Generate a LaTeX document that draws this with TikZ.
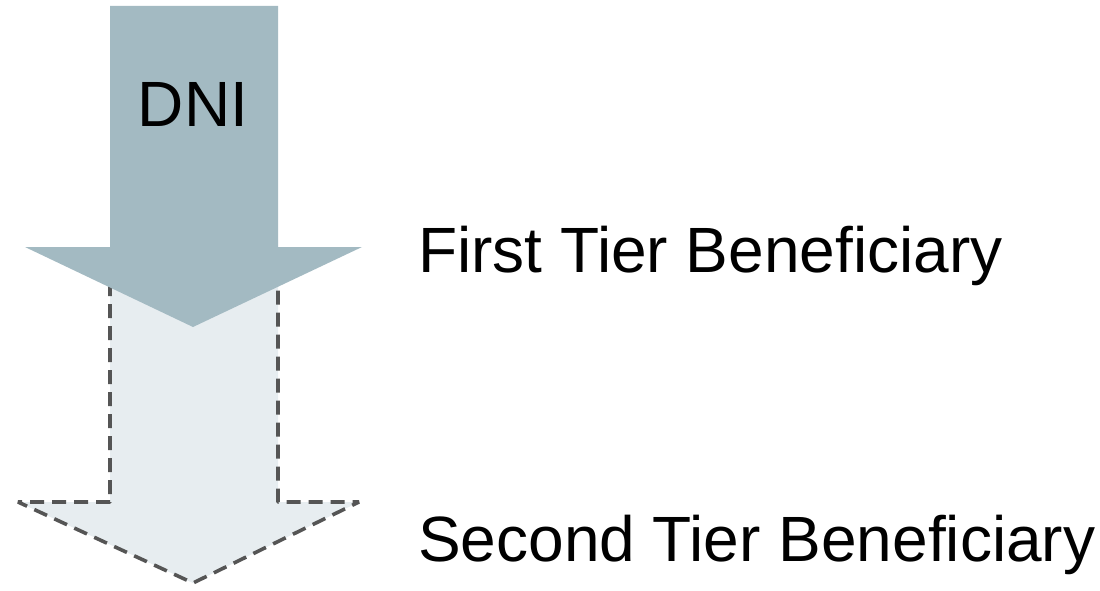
\documentclass[tikz,border=0pt]{standalone}
\usepackage{fontspec}
\setmainfont{Liberation Sans}
\definecolor{topblue}{HTML}{A3BAC2}
\definecolor{lightfill}{HTML}{E7EDF0}
\definecolor{dashgray}{HTML}{555555}
\begin{document}
\begin{tikzpicture}[x=1pt,y=-1pt,
  label/.style={font=\fontsize{64}{70}\selectfont, inner sep=0pt, text=black},
  dashline/.style={draw=dashgray, line width=3.6pt, line join=bevel, dash pattern=on 14pt off 8pt}]
\useasboundingbox (0,0) rectangle (1100,591);
% second tier arrow (dashed, light)
\fill[lightfill] (110,240) -- (110,502) -- (18,502) -- (193,583) -- (359,502) -- (278,502) -- (278,240) -- cycle;
\draw[dashline] (110,260) -- (110,502) -- (18,502) -- (193,583) -- (359,502) -- (278,502) -- (278,260);
% first tier arrow (solid)
\fill[topblue] (110,6) -- (110,247) -- (25,247) -- (193,327) -- (362,247) -- (278,247) -- (278,6) -- cycle;
% labels
\node[label, anchor=base] (dni) at (193,127) {DNI};
\node[label, anchor=base west] (first) at (418,272) {First Tier Beneficiary};
\node[label, anchor=base west] (second) at (418,561) {Second Tier Beneficiary};
\end{tikzpicture}
\end{document}
